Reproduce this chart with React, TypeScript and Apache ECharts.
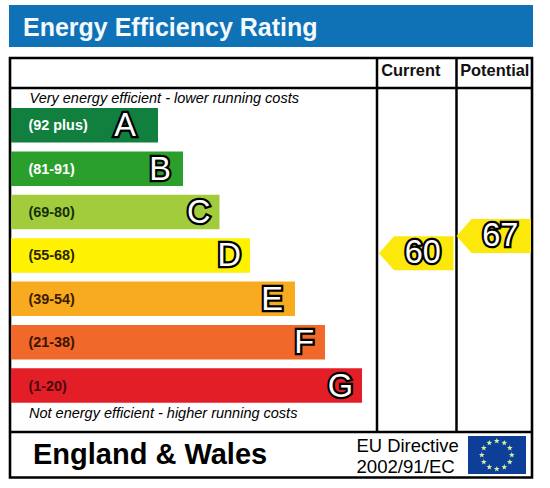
import React, { useEffect, useRef } from "react";
import * as echarts from "echarts";

const title = "Energy Efficiency Rating";
const bands = ["A", "B", "C", "D", "E", "F", "G"];
const ranges = ["(92 plus)", "(81-91)", "(69-80)", "(55-68)", "(39-54)", "(21-38)", "(1-20)"];
const barLengths = [147, 172, 208.5, 239, 284, 314, 351];
const columns = ["Current", "Potential"];
const ratings = [60, 67];
const topNote = "Very energy efficient - lower running costs";
const bottomNote = "Not energy efficient - higher running costs";
const region = "England & Wales";
const directive = ["EU Directive", "2002/91/EC"];

const bandColors = ["#11803f", "#2b9f2b", "#a2cc3c", "#fff200", "#f9ab20", "#f0682a", "#e31e27"];
const rangeColors = ["#ffffff", "#ffffff", "#15300c", "#2a2500", "#3a1c00", "#3a1400", "#4a0a0e"];
const letterInsets = [22, 12, 9, 9, 12, 11, 9];
const columnPadding = [
  [0, 10, 0, 0],
  [0, 0, 0, 3],
];
const FONT = "'Liberation Sans', Arial, sans-serif";
const YELLOW = "#fce80a";

function star(cx: number, cy: number, r: number) {
  const pts: number[][] = [];
  for (let i = 0; i < 10; i++) {
    const rad = i % 2 === 0 ? r : r * 0.42;
    const a = -Math.PI / 2 + (i * Math.PI) / 5;
    pts.push([cx + rad * Math.cos(a), cy + rad * Math.sin(a)]);
  }
  return pts;
}

function flagStars() {
  const out: any[] = [];
  for (let i = 0; i < 12; i++) {
    const a = (i * Math.PI) / 6;
    out.push({
      type: "polygon",
      z: 1,
      silent: true,
      shape: { points: star(496.8 + 15 * Math.sin(a), 455 - 14 * Math.cos(a), 3) },
      style: { fill: "#d8efa0" },
    });
  }
  return out;
}

const line = (x1: number, y1: number, x2: number, y2: number, w = 2.5) => ({
  type: "line",
  z: 1,
  silent: true,
  shape: { x1, y1, x2, y2 },
  style: { stroke: "#000", lineWidth: w },
});

const text = (x: number, y: number, t: string, font: string) => ({
  type: "text",
  z: 5,
  silent: true,
  x,
  y,
  style: { text: t, font, fill: "#000", textVerticalAlign: "middle", verticalAlign: "middle" },
});

export default function App() {
  const ref = useRef<HTMLDivElement>(null);
  useEffect(() => {
    document.body.style.margin = "0";
    document.body.style.background = "#fff";
    const chart = echarts.init(ref.current!, null, { renderer: "svg" });
    chart.setOption({
      animation: false,
      backgroundColor: "#ffffff",
      title: {
        text: title,
        left: 23,
        top: 14,
        padding: 0,
        textStyle: { color: "#f4f9fc", fontFamily: FONT, fontWeight: "bold", fontSize: 25 },
      },
      grid: [
        { left: 11, top: 103.6, width: 522, height: 303.7, containLabel: false },
        { left: 377, top: 105, width: 155, height: 296.4, containLabel: false },
      ],
      xAxis: [
        { type: "value", gridIndex: 0, min: 0, max: 522, show: false },
        {
          type: "category",
          gridIndex: 1,
          position: "top",
          data: columns.map((c, i) => ({ value: c, textStyle: { padding: columnPadding[i] } })),
          axisLine: { show: false },
          axisTick: { show: false },
          axisLabel: {
            interval: 0,
            hideOverlap: false,
            margin: 27,
            color: "#111",
            fontFamily: FONT,
            fontWeight: "bold",
            fontSize: 16.4,
          },
        },
      ],
      yAxis: [
        { type: "category", gridIndex: 0, inverse: true, data: bands, show: false },
        { type: "value", gridIndex: 1, min: 0, max: 120, show: false },
      ],
      series: [
        {
          type: "bar",
          xAxisIndex: 0,
          yAxisIndex: 0,
          barWidth: 34.5,
          data: barLengths.map((v, i) => ({
            value: v,
            itemStyle: { color: bandColors[i] },
            label: { color: rangeColors[i], formatter: ranges[i] },
          })),
          label: {
            show: true,
            position: "insideLeft",
            distance: 17.5,
            fontFamily: FONT,
            fontWeight: "bold",
            fontSize: 14.4,
          },
        },
        {
          type: "bar",
          xAxisIndex: 0,
          yAxisIndex: 0,
          barWidth: 34.5,
          barGap: "-100%",
          itemStyle: { color: "transparent" },
          data: barLengths.map((v, i) => ({
            value: v,
            label: { formatter: bands[i], distance: letterInsets[i] },
          })),
          label: {
            show: true,
            position: "insideRight",
            fontFamily: FONT,
            fontSize: 32.5,
            color: "#fff",
            textBorderColor: "#000",
            textBorderWidth: 4.5,
          },
        },
        {
          type: "custom",
          xAxisIndex: 1,
          yAxisIndex: 1,
          z: 3,
          data: ratings.map((v, i) => [i, v]),
          encode: { x: 0, y: 1 },
          renderItem: (_p: any, api: any) => {
            const c = api.coord([api.value(0), api.value(1)]);
            const w = api.size([1, 0])[0];
            const l = c[0] - w / 2 + 2;
            const r = c[0] + w / 2 - 1;
            const h = 17;
            return {
              type: "group",
              children: [
                {
                  type: "polygon",
                  shape: {
                    points: [
                      [l, c[1]],
                      [l + 15, c[1] - h],
                      [r, c[1] - h],
                      [r, c[1] + h],
                      [l + 15, c[1] + h],
                    ],
                  },
                  style: { fill: YELLOW },
                },
                {
                  type: "text",
                  x: c[0] + 7,
                  y: c[1] - 1,
                  style: {
                    text: String(api.value(1)),
                    font: `32.5px ${FONT}`,
                    fill: "#fff",
                    stroke: "#000",
                    lineWidth: 4.5,
                    align: "center",
                    verticalAlign: "middle",
                  },
                },
              ],
            };
          },
        },
      ],
      graphic: [
        {
          type: "rect",
          z: 0,
          silent: true,
          shape: { x: 9, y: 5, width: 524, height: 42 },
          style: { fill: "#0f72b7" },
        },
        {
          type: "rect",
          z: 1,
          silent: true,
          shape: { x: 10, y: 58, width: 522, height: 419.5 },
          style: { fill: "none", stroke: "#000", lineWidth: 2.6 },
        },
        line(10, 88, 532, 88),
        line(10, 432, 532, 432),
        line(377, 58, 377, 432),
        line(456.5, 58, 456.5, 432),
        text(29.5, 98, topNote, `italic 14.5px ${FONT}`),
        text(29, 413, bottomNote, `italic 14.5px ${FONT}`),
        text(33, 453.5, region, `bold 29px ${FONT}`),
        text(356.5, 445, directive[0], `18.4px ${FONT}`),
        text(356.5, 466, directive[1], `18.6px ${FONT}`),
        {
          type: "rect",
          z: 0,
          silent: true,
          shape: { x: 468, y: 436, width: 58, height: 38 },
          style: { fill: "#0d3f98" },
        },
        ...flagStars(),
      ],
    });
    return () => chart.dispose();
  }, []);
  return <div ref={ref} style={{ width: 550, height: 488 }} />;
}
